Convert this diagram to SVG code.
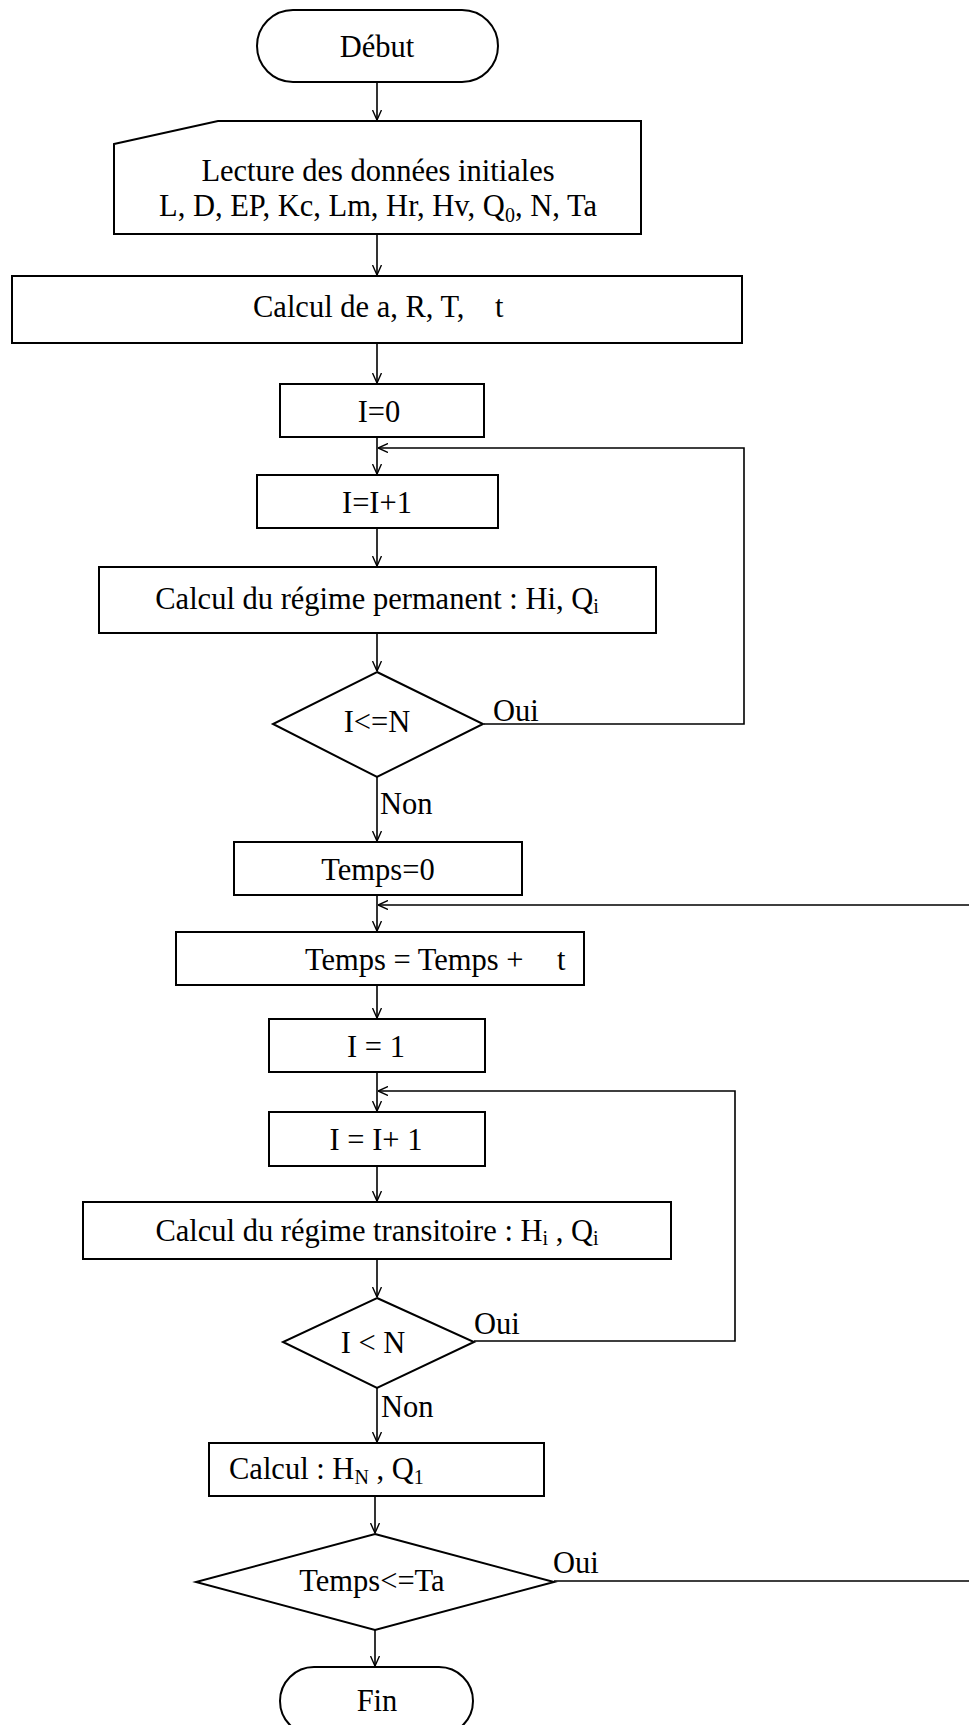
<svg xmlns="http://www.w3.org/2000/svg" width="969" height="1725" viewBox="0 0 969 1725">
<defs>
<style>
.s{fill:#fff;stroke:#000;stroke-width:2}
.t{font-family:"Liberation Serif","Times New Roman",serif;font-size:30.5px;fill:#000}
.m{text-anchor:middle}
.c{fill:none;stroke:#000;stroke-width:1.6}
.sub{font-size:20px}
</style>
<marker id="ar" viewBox="0 0 10 10" refX="10" refY="5" markerWidth="10" markerHeight="10" markerUnits="userSpaceOnUse" orient="auto">
<path d="M0,0.5 L10,5 L0,9.5" fill="none" stroke="#000" stroke-width="1.4"/>
</marker>
</defs>
<rect width="969" height="1725" fill="#fff"/>
<g id="connectors">
<path class="c" d="M377,82 V120" marker-end="url(#ar)"/>
<path class="c" d="M377,234 V275" marker-end="url(#ar)"/>
<path class="c" d="M377,343 V383" marker-end="url(#ar)"/>
<path class="c" d="M377,437 V474" marker-end="url(#ar)"/>
<path class="c" d="M484,724 H744 V448 H378" marker-end="url(#ar)"/>
<path class="c" d="M377,528 V566" marker-end="url(#ar)"/>
<path class="c" d="M377,633 V671" marker-end="url(#ar)"/>
<path class="c" d="M377,777 V841" marker-end="url(#ar)"/>
<path class="c" d="M377,895 V931" marker-end="url(#ar)"/>
<path class="c" d="M554,1581 H990 V905 H378" marker-end="url(#ar)"/>
<path class="c" d="M377,985 V1018" marker-end="url(#ar)"/>
<path class="c" d="M377,1072 V1111" marker-end="url(#ar)"/>
<path class="c" d="M474,1341 H735 V1091 H378" marker-end="url(#ar)"/>
<path class="c" d="M377,1166 V1201" marker-end="url(#ar)"/>
<path class="c" d="M377,1259 V1297" marker-end="url(#ar)"/>
<path class="c" d="M377,1388 V1442" marker-end="url(#ar)"/>
<path class="c" d="M375,1497 V1533" marker-end="url(#ar)"/>
<path class="c" d="M375,1630 V1666" marker-end="url(#ar)"/>
<text class="t" x="493" y="721">Oui</text>
<text class="t" x="380" y="814">Non</text>
<text class="t" x="474" y="1334">Oui</text>
<text class="t" x="381" y="1417">Non</text>
<text class="t" x="553" y="1573">Oui</text>
</g>
<g id="debut">
<rect class="s" x="257" y="10" width="241" height="72" rx="36" ry="36"/>
<text class="t m" x="377" y="57">Début</text>
</g>
<g id="lecture">
<path class="s" d="M114,144 L218,121 L641,121 L641,234 L114,234 Z"/>
<text class="t m" x="378" y="181">Lecture des données initiales</text>
<text class="t m" x="378" y="216">L, D, EP, Kc, Lm, Hr, Hv, Q<tspan class="sub" dy="6">0</tspan><tspan dy="-6">, N, Ta</tspan></text>
</g>
<g id="calcul-art">
<rect class="s" x="12" y="276" width="730" height="67"/>
<text class="t" x="253" y="317">Calcul de a, R, T,<tspan x="495">t</tspan></text>
</g>
<g id="i0">
<rect class="s" x="280" y="384" width="204" height="53"/>
<text class="t m" x="379" y="422">I=0</text>
</g>
<g id="iinc1">
<rect class="s" x="257" y="475" width="241" height="53"/>
<text class="t m" x="377" y="513">I=I+1</text>
</g>
<g id="permanent">
<rect class="s" x="99" y="567" width="557" height="66"/>
<text class="t m" x="377" y="609">Calcul du régime permanent : Hi, Q<tspan class="sub" dy="4">i</tspan></text>
</g>
<g id="cond1">
<polygon class="s" points="377,672 483,724 377,777 273,724"/>
<text class="t m" x="377" y="732">I&lt;=N</text>
</g>
<g id="temps0">
<rect class="s" x="234" y="842" width="288" height="53"/>
<text class="t m" x="378" y="880">Temps=0</text>
</g>
<g id="tempsinc">
<rect class="s" x="176" y="932" width="408" height="53"/>
<text class="t" x="305" y="970">Temps = Temps +<tspan x="557">t</tspan></text>
</g>
<g id="i1">
<rect class="s" x="269" y="1019" width="216" height="53"/>
<text class="t m" x="376" y="1057">I = 1</text>
</g>
<g id="iinc2">
<rect class="s" x="269" y="1112" width="216" height="54"/>
<text class="t m" x="376" y="1150">I = I+ 1</text>
</g>
<g id="transitoire">
<rect class="s" x="83" y="1202" width="588" height="57"/>
<text class="t m" x="377" y="1241">Calcul du régime transitoire : H<tspan class="sub" dy="4">i</tspan><tspan dy="-4"> , Q</tspan><tspan class="sub" dy="4">i</tspan></text>
</g>
<g id="cond2">
<polygon class="s" points="377,1298 474,1342 377,1388 283,1342"/>
<text class="t m" x="373" y="1353">I &lt; N</text>
</g>
<g id="calculhn">
<rect class="s" x="209" y="1443" width="335" height="53"/>
<text class="t" x="229" y="1479">Calcul : H<tspan class="sub" dy="5">N</tspan><tspan dy="-5"> , Q</tspan><tspan class="sub" dy="5">1</tspan></text>
</g>
<g id="cond3">
<polygon class="s" points="375,1534 554,1582 375,1630 196,1582"/>
<text class="t m" x="372" y="1591">Temps&lt;=Ta</text>
</g>
<g id="fin">
<rect class="s" x="280" y="1667" width="193" height="68" rx="34" ry="34"/>
<text class="t m" x="377" y="1711">Fin</text>
</g>
</svg>
